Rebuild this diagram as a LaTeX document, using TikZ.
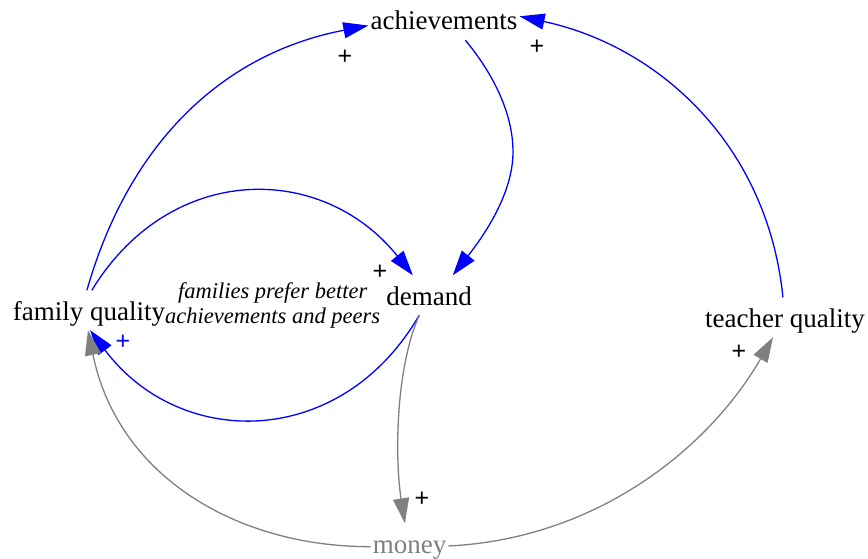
\documentclass[tikz,border=0pt]{standalone}
\usepackage{fontspec}
\setmainfont{Liberation Serif}
\newfontfamily\signfont{Liberation Sans}
\usetikzlibrary{arrows.meta}
\definecolor{linkblue}{RGB}{0,0,255}
\definecolor{linkgray}{RGB}{128,128,128}
\begin{document}
\begin{tikzpicture}[x=1pt,y=-1pt,
  var/.style={inner xsep=2pt, inner ysep=6pt, text height=23.5pt, text depth=4pt,
              font=\fontsize{27}{30}\selectfont},
  note/.style={inner sep=0pt, align=center, font=\fontsize{22.5}{25}\selectfont\itshape},
  sign/.style={inner sep=0pt, font=\signfont\fontsize{25}{28}\selectfont},
  link/.style={line width=1.3pt},
  bluelink/.style={link, draw=linkblue, -{Triangle[length=25pt,width=16pt,fill=linkblue]}},
  graylink/.style={link, draw=linkgray, -{Triangle[length=25pt,width=16pt,fill=linkgray]}}
]
\path[use as bounding box] (0,0) rectangle (868,559);

\node[var] (ach) at (444,20.25) {achievements};
\node[var] (fq) at (89,310.25) {family quality};
\node[var] (dem) at (429,295.25) {demand};
\node[var] (tq) at (785,317.25) {teacher quality};
\node[var, text=linkgray] (mon) at (409.5,543.25) {money};
\node[note] (lbl) at (272.7,305) {families prefer better\\achievements and peers};

% blue links
\draw[bluelink] (fq.96) .. controls (128,146) and (220,54) .. (ach.184);
\draw[bluelink] (fq.82) .. controls (170,162) and (322,162) .. (dem.129);
\draw[bluelink] (ach.-43) .. controls (490,70) and (513,110) .. (513,152)
                .. controls (513,195) and (482,238) .. (dem.40);
\draw[bluelink] (tq.96) .. controls (768,148) and (662,47) .. (ach.3);
\draw[bluelink] (dem.-116) .. controls (341,450) and (180,450) .. (fq.-87);

% gray links
\draw[graylink] (dem.-116) .. controls (395,370) and (395,460) .. (mon.103);
\draw[graylink] (mon.185) .. controls (238,547) and (118,477) .. (fq.-93);
\draw[graylink] (mon.-4) .. controls (595,539) and (708,450) .. (tq.-121);

% polarity signs
\node[sign] (s1) at (345,57) {+};
\node[sign] (s2) at (537,47) {+};
\node[sign] (s3) at (380,272) {+};
\node[sign, text=linkblue] (s4) at (123,342) {+};
\node[sign] (s5) at (422,499) {+};
\node[sign] (s6) at (739,352) {+};
\end{tikzpicture}
\end{document}
